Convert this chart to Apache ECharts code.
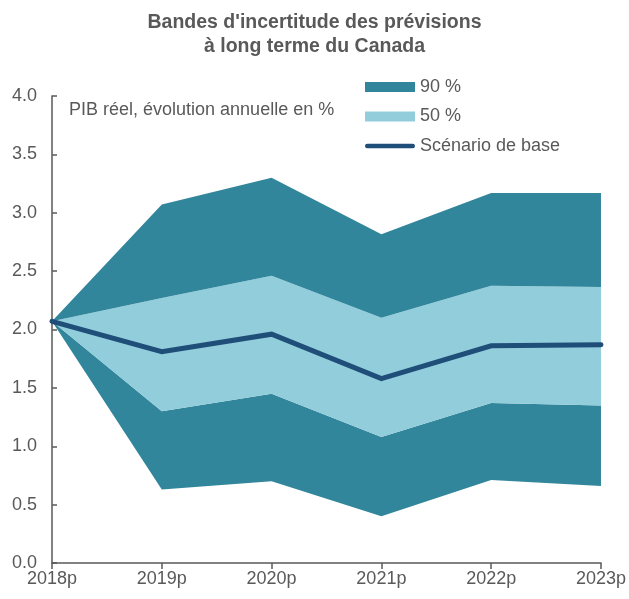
<!DOCTYPE html>
<html>
<head>
<meta charset="utf-8">
<script src="https://cdn.jsdelivr.net/npm/echarts@6/dist/echarts.min.js"></script>
<style>html,body{margin:0;padding:0;background:#fff}#c{width:629px;height:599px}</style>
</head>
<body>
<div id="c"></div>
<script>
const categories = ['2018p', '2019p', '2020p', '2021p', '2022p', '2023p'];
const lower90 = [2.07, 0.63, 0.70, 0.40, 0.71, 0.66];
const lower50 = [2.07, 1.30, 1.45, 1.08, 1.37, 1.35];
const baseCase = [2.07, 1.81, 1.96, 1.58, 1.86, 1.87];
const upper50 = [2.07, 2.27, 2.46, 2.10, 2.375, 2.365];
const upper90 = [2.07, 3.07, 3.30, 2.815, 3.17, 3.17];
const yTicks = ['0.0', '0.5', '1.0', '1.5', '2.0', '2.5', '3.0', '3.5', '4.0'];

const dark = '#31869B';
const light = '#92CDDC';
const navy = '#1F4E79';
const grey = '#595959';
const font = 'Liberation Sans, Arial, sans-serif';

const diff = (a, b) => a.map((v, i) => +(v - b[i]).toFixed(4));

const chart = echarts.init(document.getElementById('c'));
chart.setOption({
  animation: false,
  title: [{
    text: "Bandes d'incertitude des prévisions\nà long terme du Canada",
    left: 'center', top: 6,
    textStyle: { fontFamily: font, fontSize: 19.5, fontWeight: 'bold', color: grey, lineHeight: 24 }
  }, {
    text: 'PIB réel, évolution annuelle en %',
    left: 64, top: 96,
    textStyle: { fontFamily: font, fontSize: 18, fontWeight: 'normal', color: grey }
  }],
  legend: {
    orient: 'vertical', left: 360, top: 73,
    itemWidth: 50, itemHeight: 10, itemGap: 11.5,
    textStyle: { fontFamily: font, fontSize: 18, color: grey },
    data: [
      { name: '90 %', icon: 'rect' },
      { name: '50 %', icon: 'rect' },
      { name: 'Scénario de base',
        icon: 'path://M0,2.5 A2.5,2.5 0 0 1 2.5,0 L52.5,0 A2.5,2.5 0 0 1 52.5,5 L2.5,5 A2.5,2.5 0 0 1 0,2.5 Z',
        itemStyle: { color: navy } }
    ]
  },
  grid: { left: 52, right: 27, top: 96, bottom: 36 },
  xAxis: {
    type: 'category', data: categories, boundaryGap: false,
    axisLine: { lineStyle: { color: grey, width: 1.5 } },
    axisTick: { show: true, inside: false, length: 6, lineStyle: { color: grey, width: 1.5 } },
    axisLabel: { fontFamily: font, fontSize: 18, color: grey, margin: 7 }
  },
  yAxis: {
    type: 'value', min: 0, max: 4, interval: 0.5,
    axisLine: { show: true, lineStyle: { color: grey, width: 1.5 } },
    axisTick: { show: true, inside: true, length: 5, lineStyle: { color: grey, width: 1.5 } },
    splitLine: { show: false },
    axisLabel: { fontFamily: font, fontSize: 18, color: grey, margin: 15,
      formatter: v => yTicks[Math.round(v * 2)] }
  },
  series: [
    { name: 'base', type: 'line', stack: 'b', data: lower90, symbol: 'none',
      lineStyle: { width: 0 }, areaStyle: { opacity: 0 }, silent: true, z: 1 },
    { name: '90 %', type: 'line', stack: 'b', data: diff(lower50, lower90), symbol: 'none',
      lineStyle: { width: 0 }, itemStyle: { color: dark }, areaStyle: { color: dark, opacity: 1 }, z: 1 },
    { name: '50 %', type: 'line', stack: 'b', data: diff(upper50, lower50), symbol: 'none',
      lineStyle: { width: 0 }, itemStyle: { color: light }, areaStyle: { color: light, opacity: 1 }, z: 1 },
    { name: '90 %', type: 'line', stack: 'b', data: diff(upper90, upper50), symbol: 'none',
      lineStyle: { width: 0 }, itemStyle: { color: dark }, areaStyle: { color: dark, opacity: 1 }, z: 1 },
    { name: 'Scénario de base', type: 'line', data: baseCase, symbol: 'none', showSymbol: false,
      itemStyle: { color: navy },
      lineStyle: { color: navy, width: 5, cap: 'round', join: 'miter' }, z: 3 }
  ]
});
</script>
</body>
</html>
